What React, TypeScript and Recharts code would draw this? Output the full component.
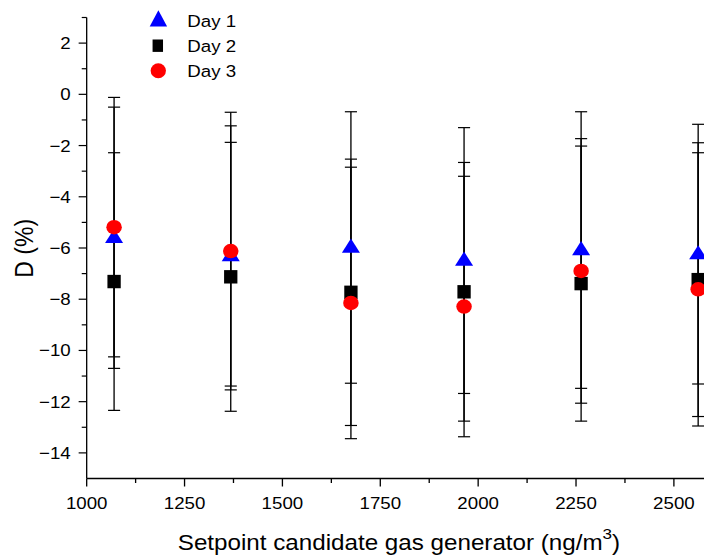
import React from 'react';
import { ScatterChart, Scatter, XAxis, YAxis, ErrorBar, Legend, Label } from 'recharts';

// ---- data ----
const setpoints = [1070, 1368, 1675, 1964, 2263, 2562];
const seriesNames = ['Day 1', 'Day 2', 'Day 3'];
const day1Mean = [-5.6, -6.31, -5.98, -6.49, -6.08, -6.24];
const day1Err = [5.1, 5.08, 5.3, 5.19, 5.4, 5.07];
const day2Mean = [-7.31, -7.125, -7.73, -7.71, -7.39, -7.235];
const day2Err = [5.03, 5.25, 5.2, 5.05, 5.37, 5.345];
const day3Mean = [-5.185, -6.12, -8.145, -8.285, -6.895, -7.615];
const day3Err = [5.065, 5.42, 5.3, 5.085, 5.165, 5.335];

const xMajorTicks = [1000, 1250, 1500, 1750, 2000, 2250, 2500];
const xMinorTicks = [1125, 1375, 1625, 1875, 2125, 2375, 2625];
const yMajorTicks = [-14, -12, -10, -8, -6, -4, -2, 0, 2];
const yMinorTicks = [-13, -11, -9, -7, -5, -3, -1, 1, 3];

const xTitle = 'Setpoint candidate gas generator (ng/m';
const xTitleSup = '3';
const yTitle = 'D (%)';

// ---- styling ----
const FONT = "'Liberation Sans', Arial, Helvetica, sans-serif";
const STRETCH = 1.1;
const BLUE = '#0000FF';
const RED = '#FF0000';
const BLACK = '#000000';

const build = (means: number[], errs: number[]) =>
  setpoints.map((x, i) => ({ x, y: means[i], err: errs[i] }));

const day1 = build(day1Mean, day1Err);
const day2 = build(day2Mean, day2Err);
const day3 = build(day3Mean, day3Err);

const xTicks = [...xMajorTicks, ...xMinorTicks].sort((a, b) => a - b);
const yTicks = [...yMajorTicks, ...yMinorTicks].sort((a, b) => a - b);

const fmtY = (v: number) => (v < 0 ? '\u2212' + Math.abs(v) : String(v));

const Triangle = (props: any) => {
  const { cx, cy } = props;
  if (cx == null || cy == null) return <g />;
  const hw = 8.2;
  return (
    <polygon
      points={`${cx},${cy - 9} ${cx - hw},${cy + 5.2} ${cx + hw},${cy + 5.2}`}
      fill={BLUE}
    />
  );
};

const Square = (props: any) => {
  const { cx, cy } = props;
  if (cx == null || cy == null) return <g />;
  const w = 12.1;
  const h = 13.4;
  return <rect x={cx - w / 2} y={cy - h / 2} width={w} height={h} fill={BLACK} />;
};

const Circle = (props: any) => {
  const { cx, cy } = props;
  if (cx == null || cy == null) return <g />;
  return <ellipse cx={cx} cy={cy} rx={7.05} ry={7.25} fill={RED} />;
};

const Empty = () => <g />;

const YTick = (props: any) => {
  const { x, y, payload } = props;
  const v = payload.value;
  const major = yMajorTicks.includes(v);
  return (
    <g>
      <line x1={x} x2={x - (major ? 7.3 : 4.5)} y1={y} y2={y} stroke={BLACK} strokeWidth={1.2} />
      {major && (
        <text x={x - 14.5} y={y} dy={6} textAnchor="end" fontSize={17} fontFamily={FONT} fill={BLACK}>
          {fmtY(v)}
        </text>
      )}
    </g>
  );
};

const XTick = (props: any) => {
  const { x, y, payload } = props;
  const v = payload.value;
  const major = xMajorTicks.includes(v);
  return (
    <g>
      <line x1={x} x2={x} y1={y} y2={y + (major ? 8 : 4.5)} stroke={BLACK} strokeWidth={1.2} />
      {major && (
        <text x={x} y={y + 31} textAnchor="middle" fontSize={17} fontFamily={FONT} fill={BLACK}>
          {v}
        </text>
      )}
    </g>
  );
};

const XTitle = () => (
  <text x={362.7} y={550} textAnchor="middle" fontSize={22} fontFamily={FONT} fill={BLACK}>
    {xTitle}
    <tspan dy={-11} fontSize={15.5}>{xTitleSup}</tspan>
    <tspan dy={11}>)</tspan>
  </text>
);

const YTitle = () => (
  <text
    x={30.3}
    y={248.3}
    transform="rotate(-90, 30.3, 248.3)"
    textAnchor="middle"
    fontSize={23}
    fontFamily={FONT}
    fill={BLACK}
  >
    {yTitle}
  </text>
);

const LegendContent = () => {
  const rows = [27.3, 52.3, 77.3];
  return (
    <svg width={120} height={85} style={{ overflow: 'visible' }}>
      <polygon points={`14,10.3 6.1,26.5 21.9,26.5`} fill={BLUE} />
      <rect x={8.7} y={39.5} width={9.5} height={12.4} fill={BLACK} />
      <ellipse cx={13.9} cy={70.8} rx={6.95} ry={7.5} fill={RED} />
      {seriesNames.map((n, i) => (
        <text key={n} x={40.3} y={rows[i]} fontSize={17} fontFamily={FONT} fill={BLACK}>
          {n}
        </text>
      ))}
    </svg>
  );
};

export default function App() {
  return (
    <div
      style={{
        position: 'fixed',
        left: 0,
        top: 0,
        width: 704,
        height: 555,
        overflow: 'hidden',
        background: '#fff',
      }}
    >
      <div style={{ transform: `scaleX(${STRETCH})`, transformOrigin: '0 0', width: 720, height: 555 }}>
        <ScatterChart width={720} height={555} margin={{ top: 17.5, right: 18.4, bottom: 16.5, left: 8.8 }}>
          <XAxis
            type="number"
            dataKey="x"
            domain={[1000, 2750]}
            ticks={xTicks}
            interval={0}
            tickSize={0}
            tickMargin={0}
            tickLine={false}
            tick={<XTick />}
            height={60}
            axisLine={{ stroke: BLACK, strokeWidth: 1.3 }}
            allowDataOverflow
          >
            <Label content={<XTitle />} />
          </XAxis>
          <YAxis
            type="number"
            dataKey="y"
            domain={[-15, 3]}
            ticks={yTicks}
            interval={0}
            tickSize={0}
            tickMargin={0}
            tickLine={false}
            tick={<YTick />}
            width={70}
            axisLine={{ stroke: BLACK, strokeWidth: 1.2 }}
            allowDataOverflow
          >
            <Label content={<YTitle />} />
          </YAxis>
          <Legend
            layout="vertical"
            align="center"
            verticalAlign="middle"
            wrapperStyle={{ position: 'absolute', left: 130, top: 0, width: 120, height: 85 }}
            content={<LegendContent />}
          />
          <Scatter name={seriesNames[0]} data={day1} shape={<Triangle />} isAnimationActive={false} />
          <Scatter name={seriesNames[1]} data={day2} shape={<Square />} isAnimationActive={false} />
          <Scatter name={seriesNames[2]} data={day3} shape={<Circle />} isAnimationActive={false} />
          <Scatter name="err1" data={day1} shape={<Empty />} legendType="none" isAnimationActive={false}>
            <ErrorBar dataKey="err" direction="y" width={5.5} stroke={BLACK} strokeWidth={1.2} isAnimationActive={false} />
          </Scatter>
          <Scatter name="err2" data={day2} shape={<Empty />} legendType="none" isAnimationActive={false}>
            <ErrorBar dataKey="err" direction="y" width={5.5} stroke={BLACK} strokeWidth={1.2} isAnimationActive={false} />
          </Scatter>
          <Scatter name="err3" data={day3} shape={<Empty />} legendType="none" isAnimationActive={false}>
            <ErrorBar dataKey="err" direction="y" width={5.5} stroke={BLACK} strokeWidth={1.2} isAnimationActive={false} />
          </Scatter>
        </ScatterChart>
      </div>
    </div>
  );
}
